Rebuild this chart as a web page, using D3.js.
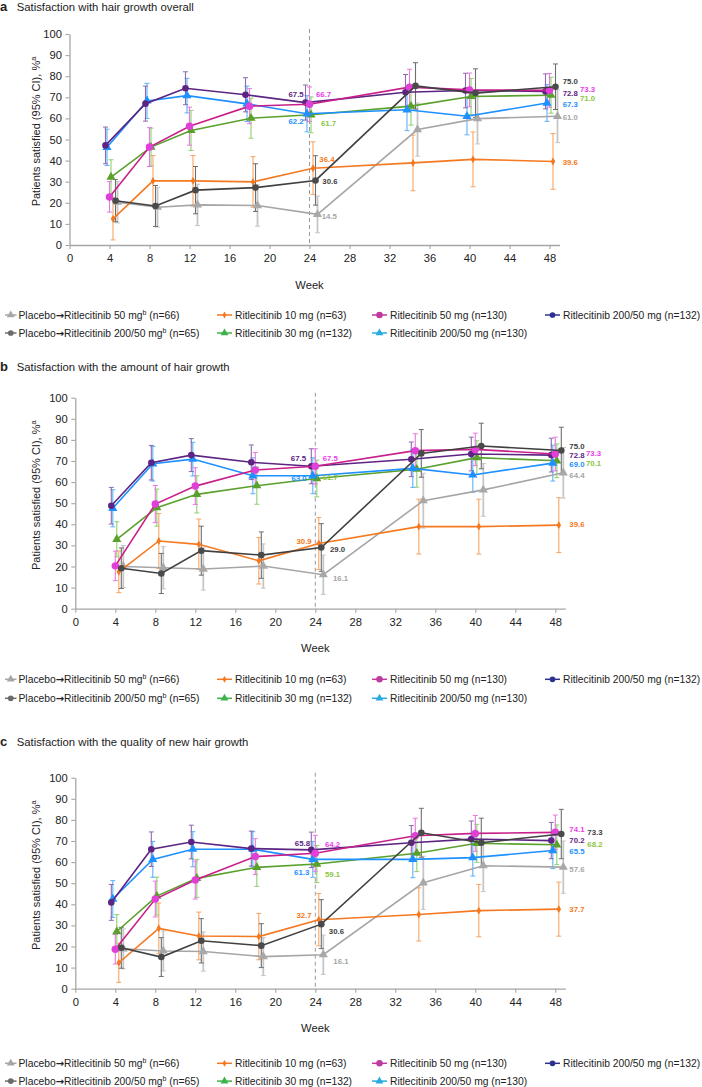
<!DOCTYPE html>
<html><head><meta charset="utf-8">
<script src="https://cdn.jsdelivr.net/npm/d3@7"></script>
<style>
body{margin:0;background:#fff}
svg{display:block}
text{font-family:"Liberation Sans",Arial,Helvetica,sans-serif}
</style>
</head><body>
<svg id="chart" width="702" height="1087"></svg>
<script>
// ---------------- DATA ----------------
const weeks = [4, 8, 12, 18, 24, 34, 40, 48];
const weekTicks = [0, 4, 8, 12, 16, 20, 24, 28, 32, 36, 40, 44, 48];
const yTicks = [0, 10, 20, 30, 40, 50, 60, 70, 80, 90, 100];

// series order: Placebo→50, Placebo→200/50, 10 mg, 30 mg, 50 mg, 200/50 (n=130), 200/50 (n=132)
const legendPre = ["Placebo", "Placebo", "", "", "", "", ""];
const legendMain = ["Ritlecitinib 50 mg", "Ritlecitinib 200/50 mg", "Ritlecitinib 10 mg",
  "Ritlecitinib 30 mg", "Ritlecitinib 50 mg", "Ritlecitinib 200/50 mg", "Ritlecitinib 200/50 mg"];
const legendSup = ["b", "b", "", "", "", "", ""];
const legendN = [" (n=66)", " (n=65)", " (n=63)", " (n=132)", " (n=130)", " (n=130)", " (n=132)"];

const panelTitles = ["Satisfaction with hair growth overall",
  "Satisfaction with the amount of hair growth",
  "Satisfaction with the quality of new hair growth"];
const panelLetters = ["a", "b", "c"];

// % satisfied, panel a
const valuesA = [
  [20.3, 17.9, 19.0, 18.7, 14.5, 54.7, 59.9, 61.0],
  [21.0, 18.5, 26.0, 27.2, 30.6, 75.4, 72.0, 75.0],
  [12.4, 30.4, 30.4, 29.9, 36.4, 38.9, 40.6, 39.6],
  [32.2, 46.4, 54.3, 60.1, 61.7, 65.8, 70.4, 71.0],
  [22.8, 46.4, 56.3, 65.8, 66.7, 74.8, 73.5, 73.3],
  [46.3, 68.3, 70.8, 66.9, 62.2, 64.1, 61.0, 67.3],
  [47.2, 67.0, 74.3, 71.2, 67.5, 72.4, 73.2, 72.8]
];
// 95% CI half-widths, panel a
const errA = [
  [9.8, 9.4, 9.8, 9.8, 8.7, 12.6, 12.0, 12.5],
  [10.0, 9.7, 11.2, 11.3, 11.7, 11.0, 11.5, 10.8],
  [10.0, 12.0, 12.0, 12.0, 12.5, 13.2, 13.0, 13.2],
  [8.2, 9.0, 9.5, 9.5, 8.5, 9.0, 8.5, 8.5],
  [7.2, 9.2, 9.0, 8.3, 8.2, 8.5, 8.0, 8.0],
  [8.6, 8.3, 8.2, 8.4, 8.6, 9.9, 8.8, 8.7],
  [8.7, 8.3, 7.8, 8.1, 8.3, 8.4, 8.2, 8.3]
];
const valuesB = [
  [20.0, 19.4, 18.8, 20.2, 16.1, 51.2, 56.3, 64.4],
  [19.2, 16.7, 27.5, 25.4, 29.0, 73.6, 77.1, 75.0],
  [17.5, 32.1, 30.5, 22.7, 30.9, 38.9, 38.9, 39.6],
  [32.9, 47.9, 54.2, 58.3, 61.7, 66.1, 71.6, 70.1],
  [20.3, 49.6, 58.1, 65.7, 67.5, 74.9, 75.5, 73.3],
  [47.6, 68.7, 70.9, 63.0, 63.0, 66.5, 63.4, 69.0],
  [48.8, 69.2, 72.8, 69.4, 67.5, 70.8, 73.3, 72.8]
];
const errB = [
  [10.0, 10.0, 10.0, 10.5, 9.3, 13.0, 12.5, 12.0],
  [9.6, 9.5, 11.6, 11.0, 11.3, 11.3, 10.8, 11.0],
  [9.9, 13.0, 12.0, 11.0, 12.3, 13.0, 13.0, 13.0],
  [8.3, 8.8, 8.8, 8.8, 8.7, 8.5, 8.0, 8.0],
  [7.0, 8.8, 8.7, 8.3, 8.3, 8.0, 7.7, 8.0],
  [8.8, 8.2, 8.0, 8.5, 8.5, 9.0, 8.2, 8.5],
  [8.7, 8.2, 7.8, 8.2, 8.3, 8.2, 8.0, 8.0]
];
const valuesC = [
  [18.9, 17.9, 17.6, 15.2, 16.1, 50.2, 58.3, 57.6],
  [19.4, 15.0, 22.7, 20.4, 30.6, 73.9, 69.2, 73.3],
  [12.3, 28.6, 25.0, 24.7, 32.7, 35.2, 37.0, 37.7],
  [27.1, 43.9, 52.3, 57.5, 59.1, 64.2, 68.9, 68.2],
  [18.7, 42.5, 51.5, 62.6, 64.2, 72.5, 73.6, 74.1],
  [42.5, 61.3, 66.1, 66.1, 61.3, 61.3, 62.1, 65.5],
  [40.9, 66.1, 69.5, 66.4, 65.8, 69.2, 70.9, 70.2]
];
const errC = [
  [9.5, 9.5, 9.3, 9.0, 9.3, 12.6, 12.3, 12.4],
  [9.7, 9.2, 10.5, 10.4, 11.6, 11.6, 11.6, 11.7],
  [9.3, 12.0, 11.3, 11.0, 12.4, 12.6, 12.4, 12.8],
  [8.0, 9.0, 9.0, 9.0, 8.8, 8.7, 9.0, 9.4],
  [7.0, 8.5, 9.0, 8.5, 8.5, 8.3, 8.5, 8.2],
  [8.7, 8.5, 8.3, 8.3, 8.5, 8.7, 8.7, 8.6],
  [8.5, 8.2, 8.0, 8.3, 8.4, 8.1, 8.6, 8.6]
];

// ---------------- STYLE ----------------
const lineColor   = ['#a6a6a6', '#404040', '#f47920', '#5aa02c', '#c8208a', '#1e90ff', '#5c2483'];
const markFill    = ['#a8a8a8', '#4a4a4a', '#f47920', '#5aa02c', '#e040d8', '#1e90ff', '#5c2483'];
const errColor    = ['#c6c6c6', '#6e6e6e', '#f7a463', '#8fcf70', '#e67ae0', '#5cb0fc', '#8c6cab'];
const errWidth    = [1.8, 1.1, 1.1, 1.1, 1.1, 1.1, 1.1];
const labelColor  = ['#a6a6a6', '#404040', '#f47920', '#8cc63f', '#e83ee8', '#1e90ff', '#5c2483'];
const legendColor = ['#a6a6a6', '#6b6b6b', '#f47920', '#3cb44b', '#c0399f', '#29abe2', '#2e3192'];
const shapes = [d3.symbolTriangle, d3.symbolCircle, d3.symbolDiamond, d3.symbolTriangle, d3.symbolCircle, d3.symbolTriangle, d3.symbolCircle];
const shapeSize = [36, 34, 18, 36, 44, 36, 34];
const jitter = [0.8, 0.6, 0.35, 0.15, 0, -0.25, -0.4];
const drawOrder = [0, 2, 3, 5, 6, 4, 1];

// label offsets [dx, dy, anchor] for week-24 point
const lab24 = [
  [[4.2, 4.6, 'start'], [6.8, 3.1, 'start'], [6.3, -6.2, 'start'], [10, 10.7, 'start'], [6.5, -6.8, 'start'], [-3.3, 10.2, 'end'], [-1.8, -5.1, 'end']],
  [[9.7, 6, 'start'], [8.7, 4.5, 'start'], [-7.1, 0, 'end'], [5.9, 1.2, 'start'], [7.4, -5.6, 'start'], [-6.1, 5, 'end'], [-5.3, -5.6, 'end']],
  [[10, 9.3, 'start'], [7.5, 9.6, 'start'], [-7.1, -2, 'end'], [8.2, 12.7, 'start'], [9.7, -5.9, 'start'], [-3.5, 15.3, 'end'], [-1.3, -4.2, 'end']]
];
// week-48 labels: [column (0/1), dy]
const lab48 = [
  [[0, 3.4], [0, -3], [0, 3.3], [1, 6.1], [1, 1.4], [0, 4.3], [0, 4.3]],
  [[0, 5.2], [0, -1.5], [0, 2.2], [1, 5.5], [1, 2.3], [0, 3.9], [0, 2.7]],
  [[0, 4.8], [1, 0.7], [0, 2.8], [1, 2.5], [0, -0.6], [0, 3.5], [0, 2.4]]
];
const lab48Col = [[13.2, 30.5], [14, 30.7], [14, 32]];

const panels = [
  {vals: valuesA, errs: errA, x0: 69.5, x1: 559.5, yb: 245, yt: 34, titleY: 11, legY: [318.5, 336.5]},
  {vals: valuesB, errs: errB, x0: 75.3, x1: 565.3, yb: 608.7, yt: 397.7, titleY: 371, legY: [682.8, 701.8]},
  {vals: valuesC, errs: errC, x0: 75.3, x1: 565.3, yb: 988.7, yt: 777.7, titleY: 745.5, legY: [1066.8, 1084.6]}
];
// legend slots: [column, row] for each series
const legendSlot = [[0, 0], [0, 1], [1, 0], [1, 1], [2, 0], [2, 1], [3, 0]];
const legendLineX = [[5, 16.5], [217, 232], [372, 387], [545, 560]];
const legendTextX = [18.5, 235, 390, 563];

const svg = d3.select('#chart');
const axisColor = '#a6a6a6';

panels.forEach((p, pi) => {
  const g = svg.append('g');
  const x = d3.scaleLinear().domain([0, 49]).range([p.x0, p.x1]);
  const y = d3.scaleLinear().domain([0, 100]).range([p.yb, p.yt]);

  // title
  const t = g.append('text').attr('x', 0).attr('y', p.titleY).attr('font-size', 11.3).attr('fill', '#222');
  t.append('tspan').attr('font-weight', 'bold').attr('font-size', 13).text(panelLetters[pi]);
  t.append('tspan').attr('x', 16.7).text(panelTitles[pi]);

  // axes
  const ya = g.append('g').attr('transform', `translate(${p.x0},0)`)
    .call(d3.axisLeft(y).tickValues(yTicks).tickSize(4).tickSizeOuter(0).tickPadding(3.5));
  const xa = g.append('g').attr('transform', `translate(0,${p.yb})`)
    .call(d3.axisBottom(x).tickValues(weekTicks).tickSize(4).tickSizeOuter(0).tickPadding(5));
  [ya, xa].forEach(a => {
    a.select('.domain').attr('stroke', axisColor).attr('stroke-width', 1.3);
    a.selectAll('.tick line').attr('stroke', axisColor).attr('stroke-width', 1.1);
    a.selectAll('.tick text').attr('font-size', 11.2).attr('fill', '#222')
      .attr('font-family', '"Liberation Sans",Arial,sans-serif');
  });

  // axis titles
  const yt = g.append('text')
    .attr('transform', `translate(40,${(p.yb + p.yt) / 2 - 8}) rotate(-90)`)
    .attr('text-anchor', 'middle').attr('font-size', 11).attr('fill', '#222');
  yt.append('tspan').text('Patients satisfied (95% CI), %');
  yt.append('tspan').attr('font-size', 7.5).attr('dy', -4.5).text('a');
  g.append('text').attr('x', x(24)).attr('y', p.yb + 43.5).attr('text-anchor', 'middle')
    .attr('font-size', 11.2).attr('fill', '#222').text('Week');

  // dashed reference line at week 24
  g.append('line').attr('x1', x(24)).attr('x2', x(24)).attr('y1', p.yt - 5).attr('y2', p.yb)
    .attr('stroke', '#9a9a9a').attr('stroke-width', 1).attr('stroke-dasharray', '4,3');

  const px = (si, wi) => x(weeks[wi] + jitter[si]);

  // error bars
  drawOrder.forEach(si => {
    const eg = g.append('g').attr('stroke', errColor[si]).attr('stroke-width', errWidth[si]).attr('fill', 'none');
    p.vals[si].forEach((v, wi) => {
      const cx = px(si, wi), lo = y(Math.max(0, v - p.errs[si][wi])), hi = y(Math.min(100, v + p.errs[si][wi]));
      eg.append('line').attr('x1', cx).attr('x2', cx).attr('y1', lo).attr('y2', hi);
      eg.append('line').attr('x1', cx - 2.5).attr('x2', cx + 2.5).attr('y1', lo).attr('y2', lo).attr('stroke-width', 1);
      eg.append('line').attr('x1', cx - 2.5).attr('x2', cx + 2.5).attr('y1', hi).attr('y2', hi).attr('stroke-width', 1);
    });
  });

  // lines and markers
  const line = d3.line();
  drawOrder.forEach(si => {
    const pts = p.vals[si].map((v, wi) => [px(si, wi), y(v)]);
    g.append('path').attr('d', line(pts)).attr('fill', 'none').attr('stroke', lineColor[si]).attr('stroke-width', 1.6);
    const sym = d3.symbol().type(shapes[si]).size(shapeSize[si]);
    pts.forEach(pt => {
      g.append('path').attr('d', sym()).attr('transform', `translate(${pt[0]},${pt[1]})`)
        .attr('fill', markFill[si]);
    });
  });

  // value labels at week 24 and 48
  for (let si = 0; si < 7; si++) {
    const v24 = p.vals[si][4];
    const o = lab24[pi][si];
    g.append('text').attr('x', px(si, 4) + o[0]).attr('y', y(v24) + o[1]).attr('text-anchor', o[2])
      .attr('font-size', 7.8).attr('font-weight', 'bold').attr('fill', labelColor[si]).text(v24.toFixed(1));
    const v48 = p.vals[si][7];
    const o2 = lab48[pi][si];
    g.append('text').attr('x', x(48) + lab48Col[pi][o2[0]]).attr('y', y(v48) + o2[1])
      .attr('font-size', 7.8).attr('font-weight', 'bold').attr('fill', labelColor[si]).text(v48.toFixed(1));
  }

  // legend
  for (let si = 0; si < 7; si++) {
    const [c, r] = legendSlot[si];
    const ly = p.legY[r];
    const lx = legendLineX[c];
    g.append('line').attr('x1', lx[0]).attr('x2', lx[1]).attr('y1', ly - 3.5).attr('y2', ly - 3.5)
      .attr('stroke', legendColor[si]).attr('stroke-width', 1.5);
    g.append('path').attr('d', d3.symbol().type(shapes[si]).size(shapeSize[si] * 0.75)())
      .attr('transform', `translate(${(lx[0] + lx[1]) / 2},${ly - 3.5})`).attr('fill', legendColor[si]);
    const tx = g.append('text').attr('x', legendTextX[c]).attr('y', ly).attr('font-size', 10.3).attr('fill', '#222');
    if (legendPre[si]) {
      tx.append('tspan').text(legendPre[si]);
      tx.append('tspan').attr('font-family', '"DejaVu Sans",sans-serif').attr('font-weight', 'bold')
        .attr('font-size', 10).text('→');
    }
    tx.append('tspan').text(legendMain[si]);
    if (legendSup[si]) {
      tx.append('tspan').attr('font-size', 7).attr('dy', -4).text(legendSup[si]);
      tx.append('tspan').attr('dy', 4).text(legendN[si]);
    } else {
      tx.append('tspan').text(legendN[si]);
    }
  }
});
</script>
</body></html>
